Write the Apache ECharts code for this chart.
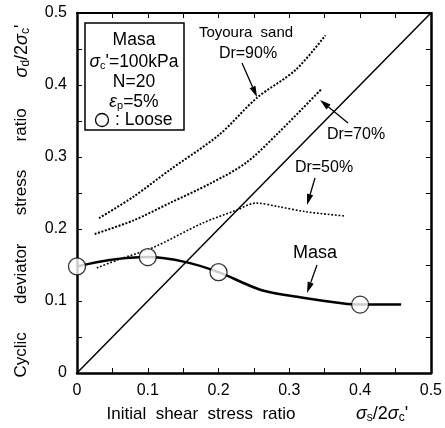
<!DOCTYPE html>
<html>
<head>
<meta charset="utf-8">
<script src="https://cdn.jsdelivr.net/npm/echarts@6/dist/echarts.min.js"></script>
<style>html,body{margin:0;padding:0;background:#fff}#c{width:445px;height:428px}</style>
</head>
<body>
<div id="c"></div>
<script>
// ---- data ----
const xTicks = [0, 0.1, 0.2, 0.3, 0.4, 0.5];
const yTicks = [0, 0.1, 0.2, 0.3, 0.4, 0.5];
const lineYX = [[0, 0], [0.5, 0.5]];
const dr90 = [[0.031, 0.215], [0.08, 0.245], [0.131, 0.282], [0.201, 0.331], [0.254, 0.382], [0.309, 0.421], [0.351, 0.469]];
const dr70 = [[0.025, 0.193], [0.08, 0.212], [0.131, 0.236], [0.19, 0.264], [0.239, 0.292], [0.285, 0.334], [0.345, 0.394]];
const dr50 = [[0.028, 0.146], [0.06, 0.158], [0.107, 0.174], [0.177, 0.208], [0.225, 0.226], [0.253, 0.236], [0.285, 0.231], [0.323, 0.224], [0.379, 0.218]];
const masaCurve = [[0, 0.148], [0.046, 0.157], [0.1, 0.161], [0.154, 0.154], [0.2, 0.14], [0.261, 0.115], [0.317, 0.105], [0.374, 0.097], [0.4, 0.095], [0.458, 0.095]];
const masaPoints = [[0, 0.148], [0.1, 0.161], [0.2, 0.14], [0.4, 0.095]];

const FONT = '"Liberation Sans", Arial, Helvetica, sans-serif';
const chart = echarts.init(document.getElementById('c'), null, {renderer: 'canvas'});

const G = {left: 77, top: 13, right: 12, bottom: 55};
function axisCfg(lineW) {
  return {
    type: 'value', min: 0, max: 0.5, interval: 0.1,
    axisLine: {show: true, onZero: false, lineStyle: {color: '#000', width: lineW}},
    axisTick: {show: true, inside: true, length: 5, lineStyle: {color: '#000', width: 1}},
    minorTick: {show: true, splitNumber: 2, length: 5, lineStyle: {color: '#000', width: 1}},
    splitLine: {show: false},
    minorSplitLine: {show: false},
    axisLabel: {show: false}
  };
}
function fmt(v) { return v === 0 ? '0' : String(+v.toFixed(1)); }
const tickLabel = (m) => ({show: true, color: '#000', fontSize: 16, fontFamily: FONT, margin: m, formatter: fmt});

const option = {
  animation: false,
  backgroundColor: '#fff',
  grid: G,
  xAxis: [
    Object.assign(axisCfg(2.5), {position: 'bottom', axisLabel: tickLabel(10)}),
    Object.assign(axisCfg(2), {position: 'top'})
  ],
  yAxis: [
    Object.assign(axisCfg(2.5), {position: 'left', axisLabel: tickLabel(10)}),
    Object.assign(axisCfg(2.5), {position: 'right'})
  ],
  series: [
    {type: 'line', data: lineYX, symbol: 'none', lineStyle: {color: '#000', width: 1.5}},
    {type: 'line', data: dr90, symbol: 'none', smooth: 0.3, lineStyle: {color: '#000', width: 2, type: [2, 1.6]}},
    {type: 'line', data: dr70, symbol: 'none', smooth: 0.3, lineStyle: {color: '#000', width: 2, type: [2, 1.6]}},
    {type: 'line', data: dr50, symbol: 'none', smooth: 0.3, lineStyle: {color: '#000', width: 1.6, type: [1.8, 1.8]}},
    {type: 'line', data: masaCurve, symbol: 'none', smooth: 0.3, lineStyle: {color: '#000', width: 2.5}},
    {type: 'scatter', data: masaPoints, symbol: 'circle', symbolSize: 17, z: 5,
      itemStyle: {color: '#fff', borderColor: '#000', borderWidth: 1.3}}
  ]
};
chart.setOption(option);

// ---- annotations ----
function arrow(x1, y1, x2, y2) {
  const ang = Math.atan2(y2 - y1, x2 - x1), L = 11, W = 3.2;
  const bx = x2 - L * Math.cos(ang), by = y2 - L * Math.sin(ang);
  const nx = -Math.sin(ang) * W, ny = Math.cos(ang) * W;
  return [
    {type: 'line', shape: {x1: x1, y1: y1, x2: bx, y2: by}, style: {stroke: '#000', lineWidth: 1.3}, z: 10},
    {type: 'polygon', shape: {points: [[x2, y2], [bx + nx, by + ny], [bx - nx, by - ny]]}, style: {fill: '#000'}, z: 10}
  ];
}
const g = [];
g.push({type: 'rect', shape: {x: 85, y: 23, width: 99, height: 107}, style: {fill: '#fff', stroke: '#000', lineWidth: 1.5}, z: 10});
const BF = 17.5;
const boxText = (t, y, rich) => ({type: 'text', x: 134, y: y, z: 11,
  style: {text: t, rich: rich || {}, fill: '#000', font: BF + 'px ' + FONT, textAlign: 'center', textVerticalAlign: 'middle'}});
const richBox = {
  g: {fontFamily: FONT, fontSize: BF, fontStyle: 'italic'},
  s: {fontFamily: FONT, fontSize: 11, verticalAlign: 'bottom', padding: [7, 0, 0, 0]},
  n: {fontFamily: FONT, fontSize: BF}
};
const richT = {
  g: {fontFamily: FONT, fontSize: 18, fontStyle: 'italic'},
  s: {fontFamily: FONT, fontSize: 12, verticalAlign: 'bottom', padding: [7, 0, 0, 0]},
  n: {fontFamily: FONT, fontSize: 18}
};
g.push(boxText('Masa', 40));
g.push(boxText('{g|σ}{s|c}{n|\'=100kPa}', 62, richBox));
g.push(boxText('N=20', 82));
g.push(boxText('{g|ε}{s|p}{n|=5%}', 102, richBox));
g.push({type: 'circle', shape: {cx: 102, cy: 120, r: 6.5}, style: {fill: '#fff', stroke: '#000', lineWidth: 1.3}, z: 11});
g.push({type: 'text', x: 115, y: 120, z: 11, style: {text: ': Loose', fill: '#000', font: BF + 'px ' + FONT, textAlign: 'left', textVerticalAlign: 'middle'}});

const lbl = (t, x, y, size) => ({type: 'text', x: x, y: y, z: 11,
  style: {text: t, fill: '#000', font: (size || 16) + 'px ' + FONT, textAlign: 'center', textVerticalAlign: 'middle'}});
g.push(lbl('Toyoura  sand', 246, 33, 15));
g.push(lbl('Dr=90%', 248, 54, 16));
g.push(lbl('Dr=70%', 356, 135, 16));
g.push(lbl('Dr=50%', 324, 168, 16));
g.push(lbl('Masa', 315, 253, 18));
g.push(...arrow(242, 63, 257, 97));
g.push(...arrow(348, 123, 320, 100));
g.push(...arrow(315, 178, 307, 205));
g.push(...arrow(317, 265, 307, 293));

// axis titles
g.push({type: 'text', x: 201, y: 414, style: {text: 'Initial  shear  stress  ratio', fill: '#000', font: '17px ' + FONT, textAlign: 'center', textVerticalAlign: 'middle'}});
g.push({type: 'text', x: 382, y: 414, style: {text: '{g|σ}{s|s}{n|/2}{g|σ}{s|c}{n|\'}', rich: richT, fill: '#000', font: '18px ' + FONT, textAlign: 'center', textVerticalAlign: 'middle'}});
g.push({type: 'text', x: 21, y: 243, rotation: Math.PI / 2, style: {text: 'Cyclic      deviator      stress      ratio', fill: '#000', font: '17px ' + FONT, textAlign: 'center', textVerticalAlign: 'middle'}});
g.push({type: 'text', x: 22, y: 51, rotation: Math.PI / 2, style: {text: '{g|σ}{s|d}{n|/2}{g|σ}{s|c}{n|\'}', rich: richT, fill: '#000', font: '18px ' + FONT, textAlign: 'center', textVerticalAlign: 'middle'}});

chart.setOption({graphic: g});
</script>
</body>
</html>
